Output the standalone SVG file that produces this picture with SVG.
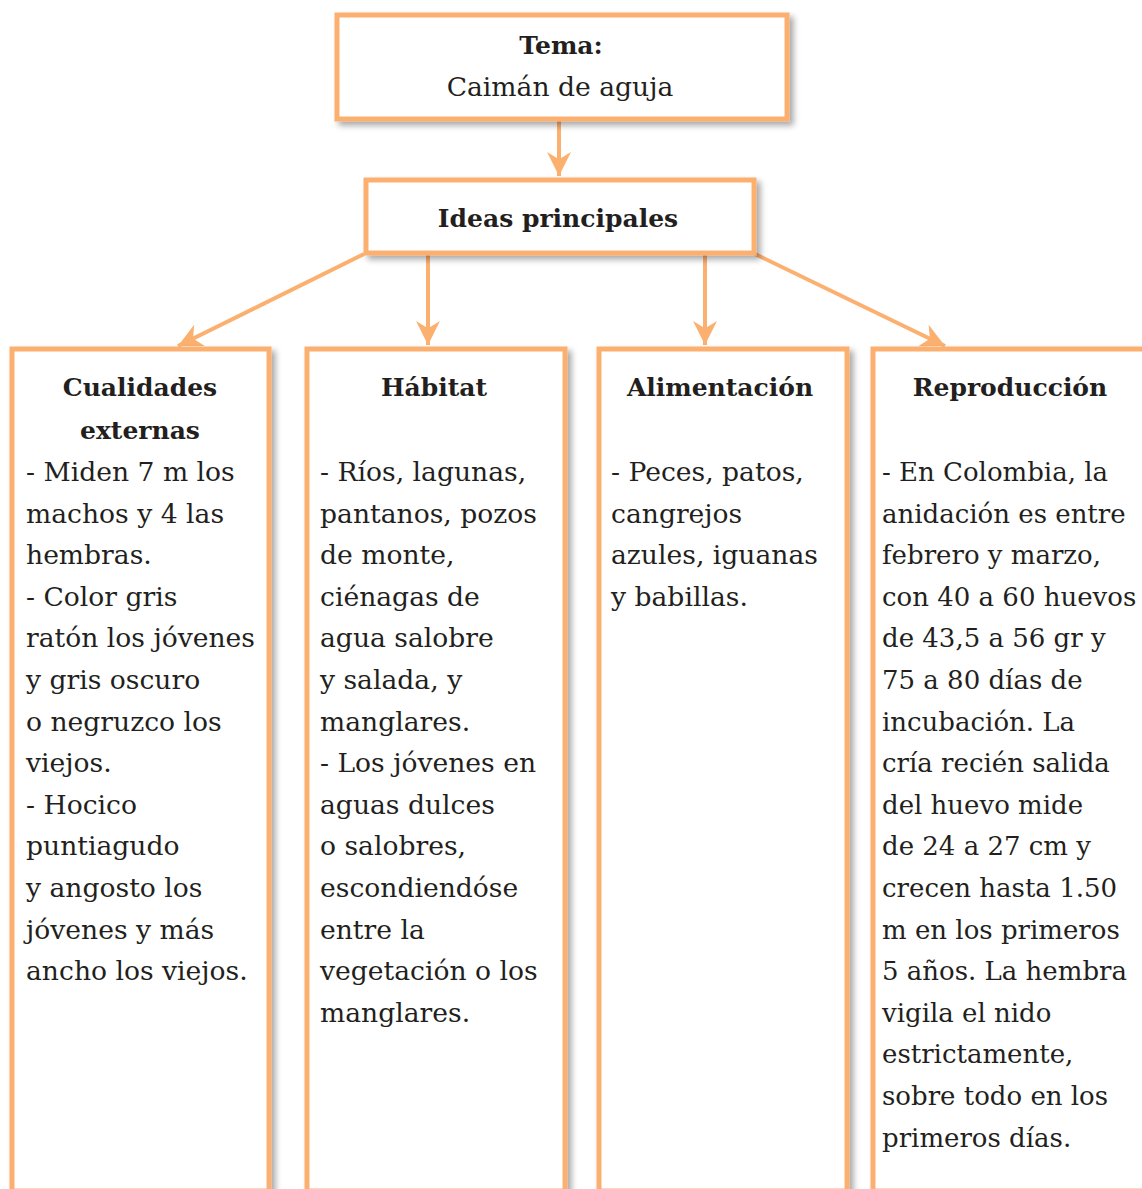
<svg xmlns="http://www.w3.org/2000/svg" width="1142" height="1189" viewBox="0 0 1142 1189">
<defs>
<filter id="sh" x="-10%" y="-10%" width="130%" height="130%">
<feGaussianBlur in="SourceAlpha" stdDeviation="3"/>
<feOffset dx="4" dy="4" result="b"/>
<feComponentTransfer><feFuncA type="linear" slope="0.35"/></feComponentTransfer>
<feMerge><feMergeNode/><feMergeNode in="SourceGraphic"/></feMerge>
</filter>
<marker id="ah" viewBox="0 0 10 10" refX="10" refY="5" markerWidth="6" markerHeight="6" markerUnits="strokeWidth" orient="auto">
<path d="M0,0 L10,5 L0,10 L3,5 Z" fill="#FCB070"/>
</marker>
</defs>
<style>
.box{fill:#fff;stroke:#FCB070;stroke-width:5}
.ln{stroke:#FCB070;stroke-width:4;fill:none}
text{font-family:"DejaVu Serif","Liberation Serif",serif;fill:#231f20;font-size:26.6px}
.b{font-weight:bold;text-anchor:middle;font-size:25px}
.c{text-anchor:middle}
.s{font-size:26px}
</style>
<rect width="1142" height="1189" fill="#fff"/>
<g id="connectors">
<line class="ln" x1="559" y1="120" x2="559" y2="176" marker-end="url(#ah)"/>
<line class="ln" x1="364" y1="254" x2="178" y2="346" marker-end="url(#ah)"/>
<line class="ln" x1="428" y1="254" x2="428" y2="345" marker-end="url(#ah)"/>
<line class="ln" x1="705" y1="254" x2="705" y2="345" marker-end="url(#ah)"/>
<line class="ln" x1="755" y1="254" x2="945" y2="346" marker-end="url(#ah)"/>
</g>
<g id="tema">
<rect class="box" x="337" y="15" width="450" height="104" filter="url(#sh)"/>
<text class="b" x="561" y="54">Tema:</text>
<text class="c" x="560" y="96">Caimán de aguja</text>
</g>
<g id="ideas">
<rect class="box" x="366" y="180" width="388" height="73" filter="url(#sh)"/>
<text class="b" x="558" y="227">Ideas principales</text>
</g>
<g id="cualidades">
<rect class="box" x="12" y="349" width="257" height="842" filter="url(#sh)"/>
<text class="b" x="140" y="396">Cualidades</text>
<text class="b" x="140" y="439">externas</text>
<text x="26">
<tspan x="26" y="481">- Miden 7 m los</tspan>
<tspan x="26" dy="41.6">machos y 4 las</tspan>
<tspan x="26" dy="41.6">hembras.</tspan>
<tspan x="26" dy="41.6">- Color gris</tspan>
<tspan x="26" dy="41.6">ratón los jóvenes</tspan>
<tspan x="26" dy="41.6">y gris oscuro</tspan>
<tspan x="26" dy="41.6">o negruzco los</tspan>
<tspan x="26" dy="41.6">viejos.</tspan>
<tspan x="26" dy="41.6">- Hocico</tspan>
<tspan x="26" dy="41.6">puntiagudo</tspan>
<tspan x="26" dy="41.6">y angosto los</tspan>
<tspan x="26" dy="41.6">jóvenes y más</tspan>
<tspan x="26" dy="41.6">ancho los viejos.</tspan>
</text>
</g>
<g id="habitat">
<rect class="box" x="307" y="349" width="258" height="842" filter="url(#sh)"/>
<text class="b" x="434" y="396">Hábitat</text>
<text x="320">
<tspan x="320" y="481">- Ríos, lagunas,</tspan>
<tspan x="320" dy="41.6">pantanos, pozos</tspan>
<tspan x="320" dy="41.6">de monte,</tspan>
<tspan x="320" dy="41.6">ciénagas de</tspan>
<tspan x="320" dy="41.6">agua salobre</tspan>
<tspan x="320" dy="41.6">y salada, y</tspan>
<tspan x="320" dy="41.6">manglares.</tspan>
<tspan x="320" dy="41.6">- Los jóvenes en</tspan>
<tspan x="320" dy="41.6">aguas dulces</tspan>
<tspan x="320" dy="41.6">o salobres,</tspan>
<tspan x="320" dy="41.6">escondiendóse</tspan>
<tspan x="320" dy="41.6">entre la</tspan>
<tspan x="320" dy="41.6">vegetación o los</tspan>
<tspan x="320" dy="41.6">manglares.</tspan>
</text>
</g>
<g id="alimentacion">
<rect class="box" x="599" y="349" width="248" height="842" filter="url(#sh)"/>
<text class="b" x="720" y="396">Alimentación</text>
<text x="611">
<tspan x="611" y="481">- Peces, patos,</tspan>
<tspan x="611" dy="41.6">cangrejos</tspan>
<tspan x="611" dy="41.6">azules, iguanas</tspan>
<tspan x="611" dy="41.6">y babillas.</tspan>
</text>
</g>
<g id="reproduccion">
<rect class="box" x="873" y="349" width="275" height="842" filter="url(#sh)"/>
<text class="b" x="1010" y="396">Reproducción</text>
<text class="s" x="882">
<tspan x="882" y="481">- En Colombia, la</tspan>
<tspan x="882" dy="41.6">anidación es entre</tspan>
<tspan x="882" dy="41.6">febrero y marzo,</tspan>
<tspan x="882" dy="41.6">con 40 a 60 huevos</tspan>
<tspan x="882" dy="41.6">de 43,5 a 56 gr y</tspan>
<tspan x="882" dy="41.6">75 a 80 días de</tspan>
<tspan x="882" dy="41.6">incubación. La</tspan>
<tspan x="882" dy="41.6">cría recién salida</tspan>
<tspan x="882" dy="41.6">del huevo mide</tspan>
<tspan x="882" dy="41.6">de 24 a 27 cm y</tspan>
<tspan x="882" dy="41.6">crecen hasta 1.50</tspan>
<tspan x="882" dy="41.6">m en los primeros</tspan>
<tspan x="882" dy="41.6">5 años. La hembra</tspan>
<tspan x="882" dy="41.6">vigila el nido</tspan>
<tspan x="882" dy="41.6">estrictamente,</tspan>
<tspan x="882" dy="41.6">sobre todo en los</tspan>
<tspan x="882" dy="41.6">primeros días.</tspan>
</text>
</g>
</svg>
